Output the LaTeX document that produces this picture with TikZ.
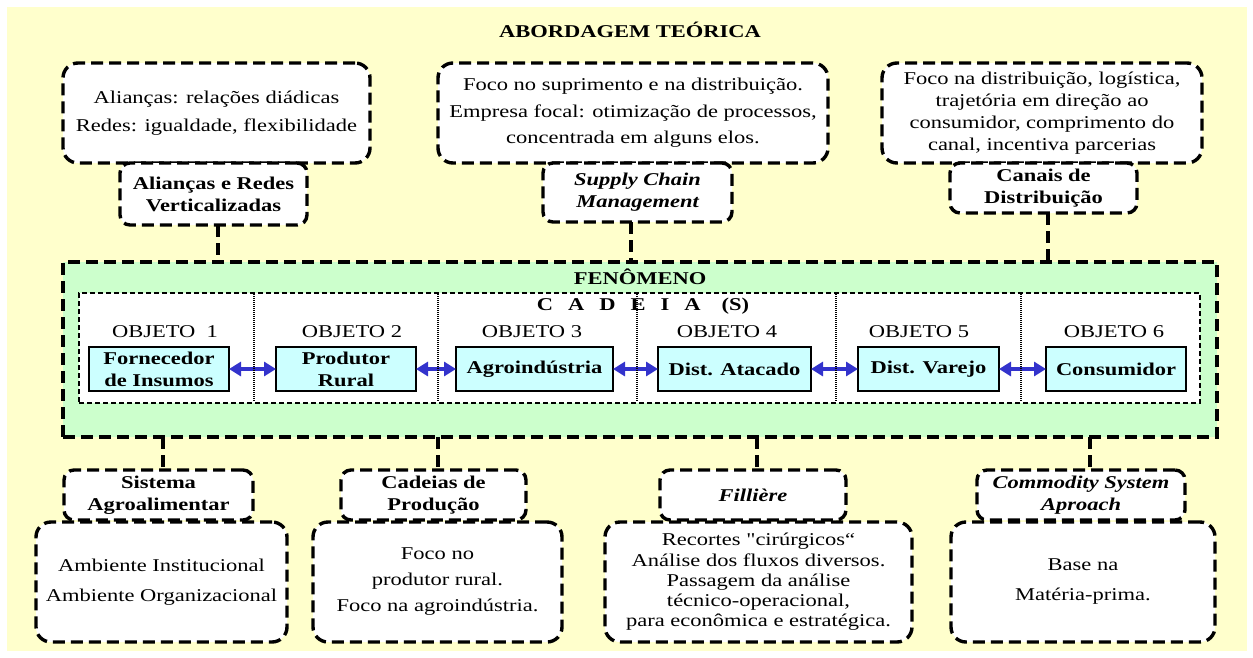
\documentclass[tikz,border=0pt]{standalone}
\usepackage{fontspec}
\setmainfont{Liberation Serif}[FakeStretch=1.25]
\usetikzlibrary{arrows.meta}
\definecolor{bgyellow}{HTML}{FFFFCC}
\definecolor{fengreen}{HTML}{CCFFCC}
\definecolor{objcyan}{HTML}{CCFFFF}
\definecolor{linkblue}{HTML}{3333CC}
% straight double quote, kept out of the TeX ligature mapping
\newcommand\straightquote{{\addfontfeature{Ligatures=TeXOff}"}}

\begin{document}
\begin{tikzpicture}[x=1pt,y=-1pt,
  every node/.style={inner sep=0pt, outer sep=0pt},
  heavydash/.style={line width=3.4pt, dash pattern=on 12pt off 6pt},
  notebox/.style={heavydash, draw=black, fill=white, rounded corners=15pt,
    align=center, font=\fontsize{18}{22}\selectfont},
  tagbox/.style={heavydash, draw=black, fill=white, rounded corners=10pt,
    align=center, font=\fontsize{18}{22}\selectfont\bfseries},
  tagboxit/.style={tagbox, font=\fontsize{18}{22}\selectfont\bfseries\itshape},
  conn/.style={heavydash, draw=black},
  objbox/.style={draw=black, line width=2pt, fill=objcyan, minimum width=#1,
    minimum height=44pt, align=center, font=\fontsize{18}{22}\selectfont\bfseries},
  objlabel/.style={font=\fontsize{18}{22}\selectfont},
  link/.style={draw=linkblue, line width=4pt,
    {Triangle[length=12pt,width=14pt]}-{Triangle[length=12pt,width=14pt]}},
  divider/.style={draw=black, line width=1.6pt, dash pattern=on 1pt off 1pt},
]
\useasboundingbox (0,0) rectangle (1253,657);
\fill[bgyellow] (7,7) rectangle (1247,651);

% title
\node[font=\fontsize{18}{22}\selectfont\bfseries] (title) at (630,30) {ABORDAGEM TEÓRICA};

% upper approaches
\node[notebox, minimum width=307pt, minimum height=100pt, font=\fontsize{18}{28}\selectfont]
  (t1) at (216.5,113) {Alianças: relações diádicas\\Redes: igualdade, flexibilidade};
\node[notebox, minimum width=390pt, minimum height=100pt, font=\fontsize{18}{26.5}\selectfont]
  (t2) at (633,113) {Foco no suprimento e na distribuição.\\Empresa focal: otimização de processos,\\concentrada em alguns elos.};
\node[notebox, minimum width=320pt, minimum height=100pt, font=\fontsize{18}{22}\selectfont]
  (t3) at (1042,113) {Foco na distribuição, logística,\\trajetória em direção ao\\consumidor, comprimento do\\canal, incentiva parcerias};

\node[tagbox, minimum width=187pt, minimum height=62pt] (l1) at (213.5,194) {Alianças e Redes\\Verticalizadas};
\node[tagboxit, minimum width=189pt, minimum height=59pt] (l2) at (637.5,192.5) {Supply Chain\\Management};
\node[tagbox, minimum width=187pt, minimum height=50pt] (l3) at (1043.5,188) {Canais de\\Distribuição};

% phenomenon frame
\node[heavydash, draw=black, fill=fengreen, minimum width=1154pt, minimum height=175pt] (fen) at (640,349.5) {};
\node[font=\fontsize{18}{22}\selectfont\bfseries] (fentitle) at (640,277) {FENÔMENO};
\node[draw=black, line width=1.3pt, dash pattern=on 5pt off 3pt, fill=white,
  minimum width=1121pt, minimum height=110pt] (chain) at (639.5,348) {};
\node[font=\fontsize{18}{22}\selectfont\bfseries, execute at begin node={\spaceskip=15pt\relax}]
  (chaintitle) at (643,306) {C A D E I A \hspace{6pt}(S)};

% links to the frame
\coordinate (u1) at ([xshift=4.5pt]l1.south);
\coordinate (u2) at ([xshift=-6.5pt]l2.south);
\coordinate (u3) at ([xshift=4.5pt]l3.south);
\draw[conn] (u1) -- (u1 |- fen.north);
\draw[conn] (u2) -- (u2 |- fen.north);
\draw[conn] (u3) -- (u3 |- fen.north);

% chain objects
\node[objlabel] (ol1) at (165,332) {OBJETO\ \ 1};
\node[objlabel] (ol2) at (352,332) {OBJETO 2};
\node[objlabel] (ol3) at (532,332) {OBJETO 3};
\node[objlabel] (ol4) at (727,332) {OBJETO 4};
\node[objlabel] (ol5) at (919,332) {OBJETO 5};
\node[objlabel] (ol6) at (1114,332) {OBJETO 6};

\node[objbox=140pt] (o1) at (159,369) {Fornecedor\\de Insumos};
\node[objbox=140pt] (o2) at (346,369) {Produtor\\Rural};
\node[objbox=157pt] (o3) at (534.5,369) {Agroindústria};
\node[objbox=153pt] (o4) at (734.5,369) {Dist. Atacado};
\node[objbox=141pt] (o5) at (928.5,369) {Dist. Varejo};
\node[objbox=140pt] (o6) at (1116,369) {Consumidor};

\draw[link] (o1) -- (o2);
\draw[link] (o2) -- (o3);
\draw[link] (o3) -- (o4);
\draw[link] (o4) -- (o5);
\draw[link] (o5) -- (o6);

\foreach \sx in {254,438,637,836,1021}
  \draw[divider] (\sx,294) -- (\sx,402);

% lower approaches
\node[notebox, minimum width=251pt, minimum height=120pt, font=\fontsize{18}{30}\selectfont]
  (b1) at (161.5,582) {Ambiente Institucional\\Ambiente Organizacional};
\node[notebox, minimum width=249pt, minimum height=120pt, font=\fontsize{18}{26}\selectfont]
  (b2) at (437.5,582) {Foco no\\produtor rural.\\Foco na agroindústria.};
\node[notebox, minimum width=307pt, minimum height=120pt, font=\fontsize{18}{20.3}\selectfont]
  (b3) at (758.5,582) {Recortes \straightquote cirúrgicos“\\Análise dos fluxos diversos.\\Passagem da análise\\técnico-operacional,\\para econômica e estratégica.};
\node[notebox, minimum width=264pt, minimum height=120pt, font=\fontsize{18}{30}\selectfont]
  (b4) at (1083,582) {Base na\\Matéria-prima.};

\node[tagbox, minimum width=189pt, minimum height=50pt] (s1) at (158.5,495) {Sistema\\Agroalimentar};
\node[tagbox, minimum width=185pt, minimum height=50pt] (s2) at (433.5,495) {Cadeias de\\Produção};
\node[tagboxit, minimum width=186pt, minimum height=50pt] (s3) at (753,495) {Fillière};
\node[tagboxit, minimum width=208pt, minimum height=50pt] (s4) at (1081,495) {Commodity System\\Aproach};

\coordinate (d1) at ([xshift=4.5pt]s1.north);
\coordinate (d2) at ([xshift=4.5pt]s2.north);
\coordinate (d3) at ([xshift=4pt]s3.north);
\coordinate (d4) at ([xshift=9pt]s4.north);
\draw[conn] (d1 |- fen.south) -- (d1);
\draw[conn] (d2 |- fen.south) -- (d2);
\draw[conn] (d3 |- fen.south) -- (d3);
\draw[conn] (d4 |- fen.south) -- (d4);
\end{tikzpicture}
\end{document}
